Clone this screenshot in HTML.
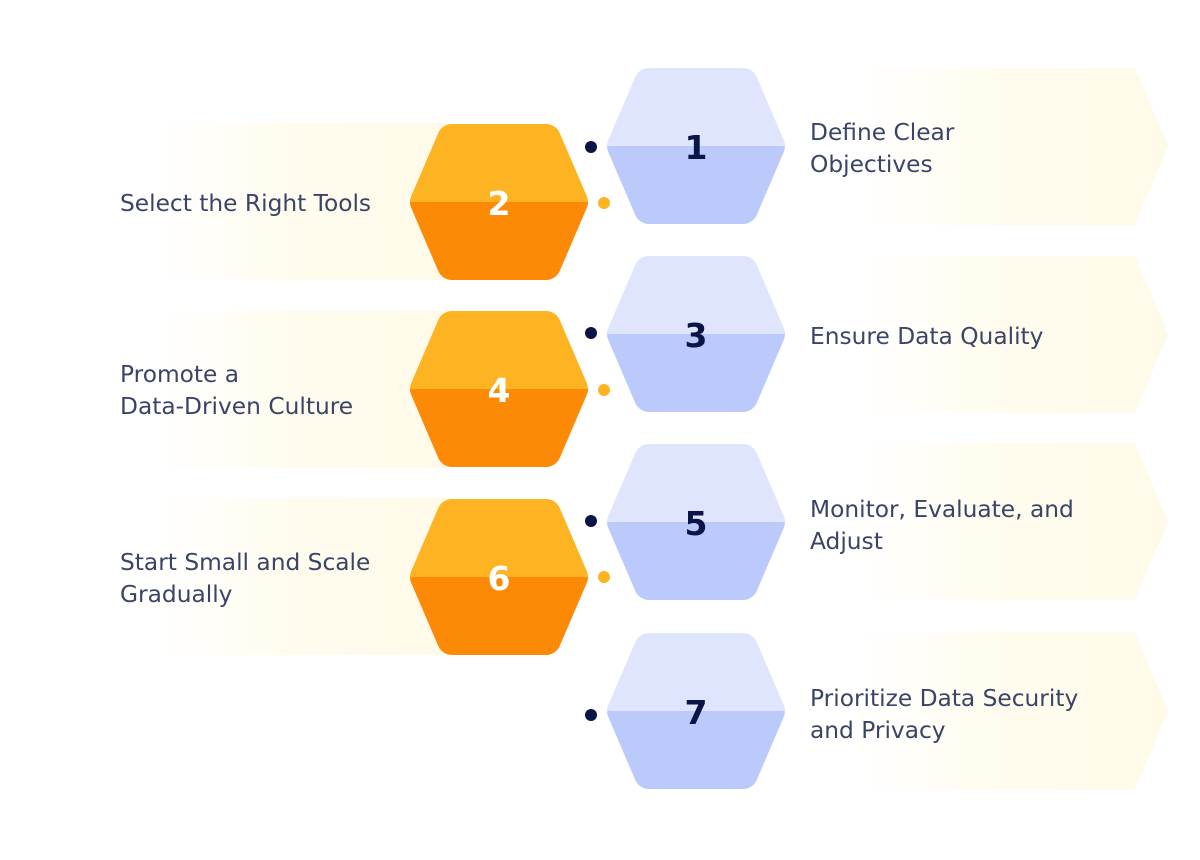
<!DOCTYPE html>
<html><head><meta charset="utf-8"><style>
html,body{margin:0;padding:0;background:#fff;width:1200px;height:860px;overflow:hidden}
svg text{font-family:"DejaVu Sans","Liberation Sans",sans-serif}
</style></head><body>
<svg width="1200" height="860" viewBox="0 0 1200 860" xmlns="http://www.w3.org/2000/svg">
<defs>
<linearGradient id="gr" x1="0" x2="1" y1="0" y2="0">
<stop offset="0" stop-color="#fffdf5" stop-opacity="0"/><stop offset="0.4" stop-color="#fffcf0"/><stop offset="1" stop-color="#fffae8"/></linearGradient>
<linearGradient id="gl" x1="0" x2="1" y1="0" y2="0">
<stop offset="0" stop-color="#fffdf5" stop-opacity="0"/><stop offset="0.4" stop-color="#fffcf0"/><stop offset="1" stop-color="#fffae8"/></linearGradient>
<g id="hx"><path d="M-47,-63 L47,-63 L74,0 L47,63 L-47,63 L-74,0 Z" stroke-linejoin="round" stroke-width="30"/></g>
<clipPath id="ct"><rect x="-100" y="-100" width="200" height="100"/></clipPath>
<clipPath id="cb"><rect x="-100" y="0" width="200" height="100"/></clipPath>
</defs>
<g fill="url(#gr)">
<path d="M850,68 L1135,68 L1168,146 L1135,225 L850,225 Z"/>
<path d="M850,256 L1135,256 L1168,334 L1135,413 L850,413 Z"/>
<path d="M850,443 L1135,443 L1168,522 L1135,600 L850,600 Z"/>
<path d="M850,632 L1135,632 L1168,711 L1135,790 L850,790 Z"/>
</g>
<g fill="url(#gl)">
<rect x="150" y="123" width="300" height="157"/>
<rect x="150" y="311" width="300" height="157"/>
<rect x="150" y="498" width="300" height="157"/>
</g>
<g font-weight="bold" font-size="33" text-anchor="middle">
<g transform="translate(696,146)"><use href="#hx" fill="#dfe5fd" stroke="#dfe5fd" clip-path="url(#ct)"/><use href="#hx" fill="#bccafb" stroke="#bccafb" clip-path="url(#cb)"/><text y="13" fill="#0b1446">1</text></g>
<g transform="translate(696,334)"><use href="#hx" fill="#dfe5fd" stroke="#dfe5fd" clip-path="url(#ct)"/><use href="#hx" fill="#bccafb" stroke="#bccafb" clip-path="url(#cb)"/><text y="13" fill="#0b1446">3</text></g>
<g transform="translate(696,522)"><use href="#hx" fill="#dfe5fd" stroke="#dfe5fd" clip-path="url(#ct)"/><use href="#hx" fill="#bccafb" stroke="#bccafb" clip-path="url(#cb)"/><text y="13" fill="#0b1446">5</text></g>
<g transform="translate(696,711)"><use href="#hx" fill="#dfe5fd" stroke="#dfe5fd" clip-path="url(#ct)"/><use href="#hx" fill="#bccafb" stroke="#bccafb" clip-path="url(#cb)"/><text y="13" fill="#0b1446">7</text></g>
<g transform="translate(499,202)"><use href="#hx" fill="#fdb322" stroke="#fdb322" clip-path="url(#ct)"/><use href="#hx" fill="#fd8a06" stroke="#fd8a06" clip-path="url(#cb)"/><text y="13" fill="#fff">2</text></g>
<g transform="translate(499,389)"><use href="#hx" fill="#fdb322" stroke="#fdb322" clip-path="url(#ct)"/><use href="#hx" fill="#fd8a06" stroke="#fd8a06" clip-path="url(#cb)"/><text y="13" fill="#fff">4</text></g>
<g transform="translate(499,577)"><use href="#hx" fill="#fdb322" stroke="#fdb322" clip-path="url(#ct)"/><use href="#hx" fill="#fd8a06" stroke="#fd8a06" clip-path="url(#cb)"/><text y="13" fill="#fff">6</text></g>
</g>
<g fill="#0b1446"><circle cx="591" cy="147" r="6"/><circle cx="591" cy="333" r="6"/><circle cx="591" cy="521" r="6"/><circle cx="591" cy="715" r="6"/></g>
<g fill="#fdb322"><circle cx="604" cy="203" r="6"/><circle cx="604" cy="390" r="6"/><circle cx="604" cy="577" r="6"/></g>
<g font-size="23.3" fill="#3a4466">
<text x="810" y="140">Define Clear</text><text x="810" y="172">Objectives</text>
<text x="810" y="344">Ensure Data Quality</text>
<text x="810" y="517">Monitor, Evaluate, and</text><text x="810" y="549">Adjust</text>
<text x="810" y="706">Prioritize Data Security</text><text x="810" y="738">and Privacy</text>
<text x="120" y="211">Select the Right Tools</text>
<text x="120" y="382">Promote a</text><text x="120" y="414">Data-Driven Culture</text>
<text x="120" y="570">Start Small and Scale</text><text x="120" y="602">Gradually</text>
</g>
</svg>
</body></html>
